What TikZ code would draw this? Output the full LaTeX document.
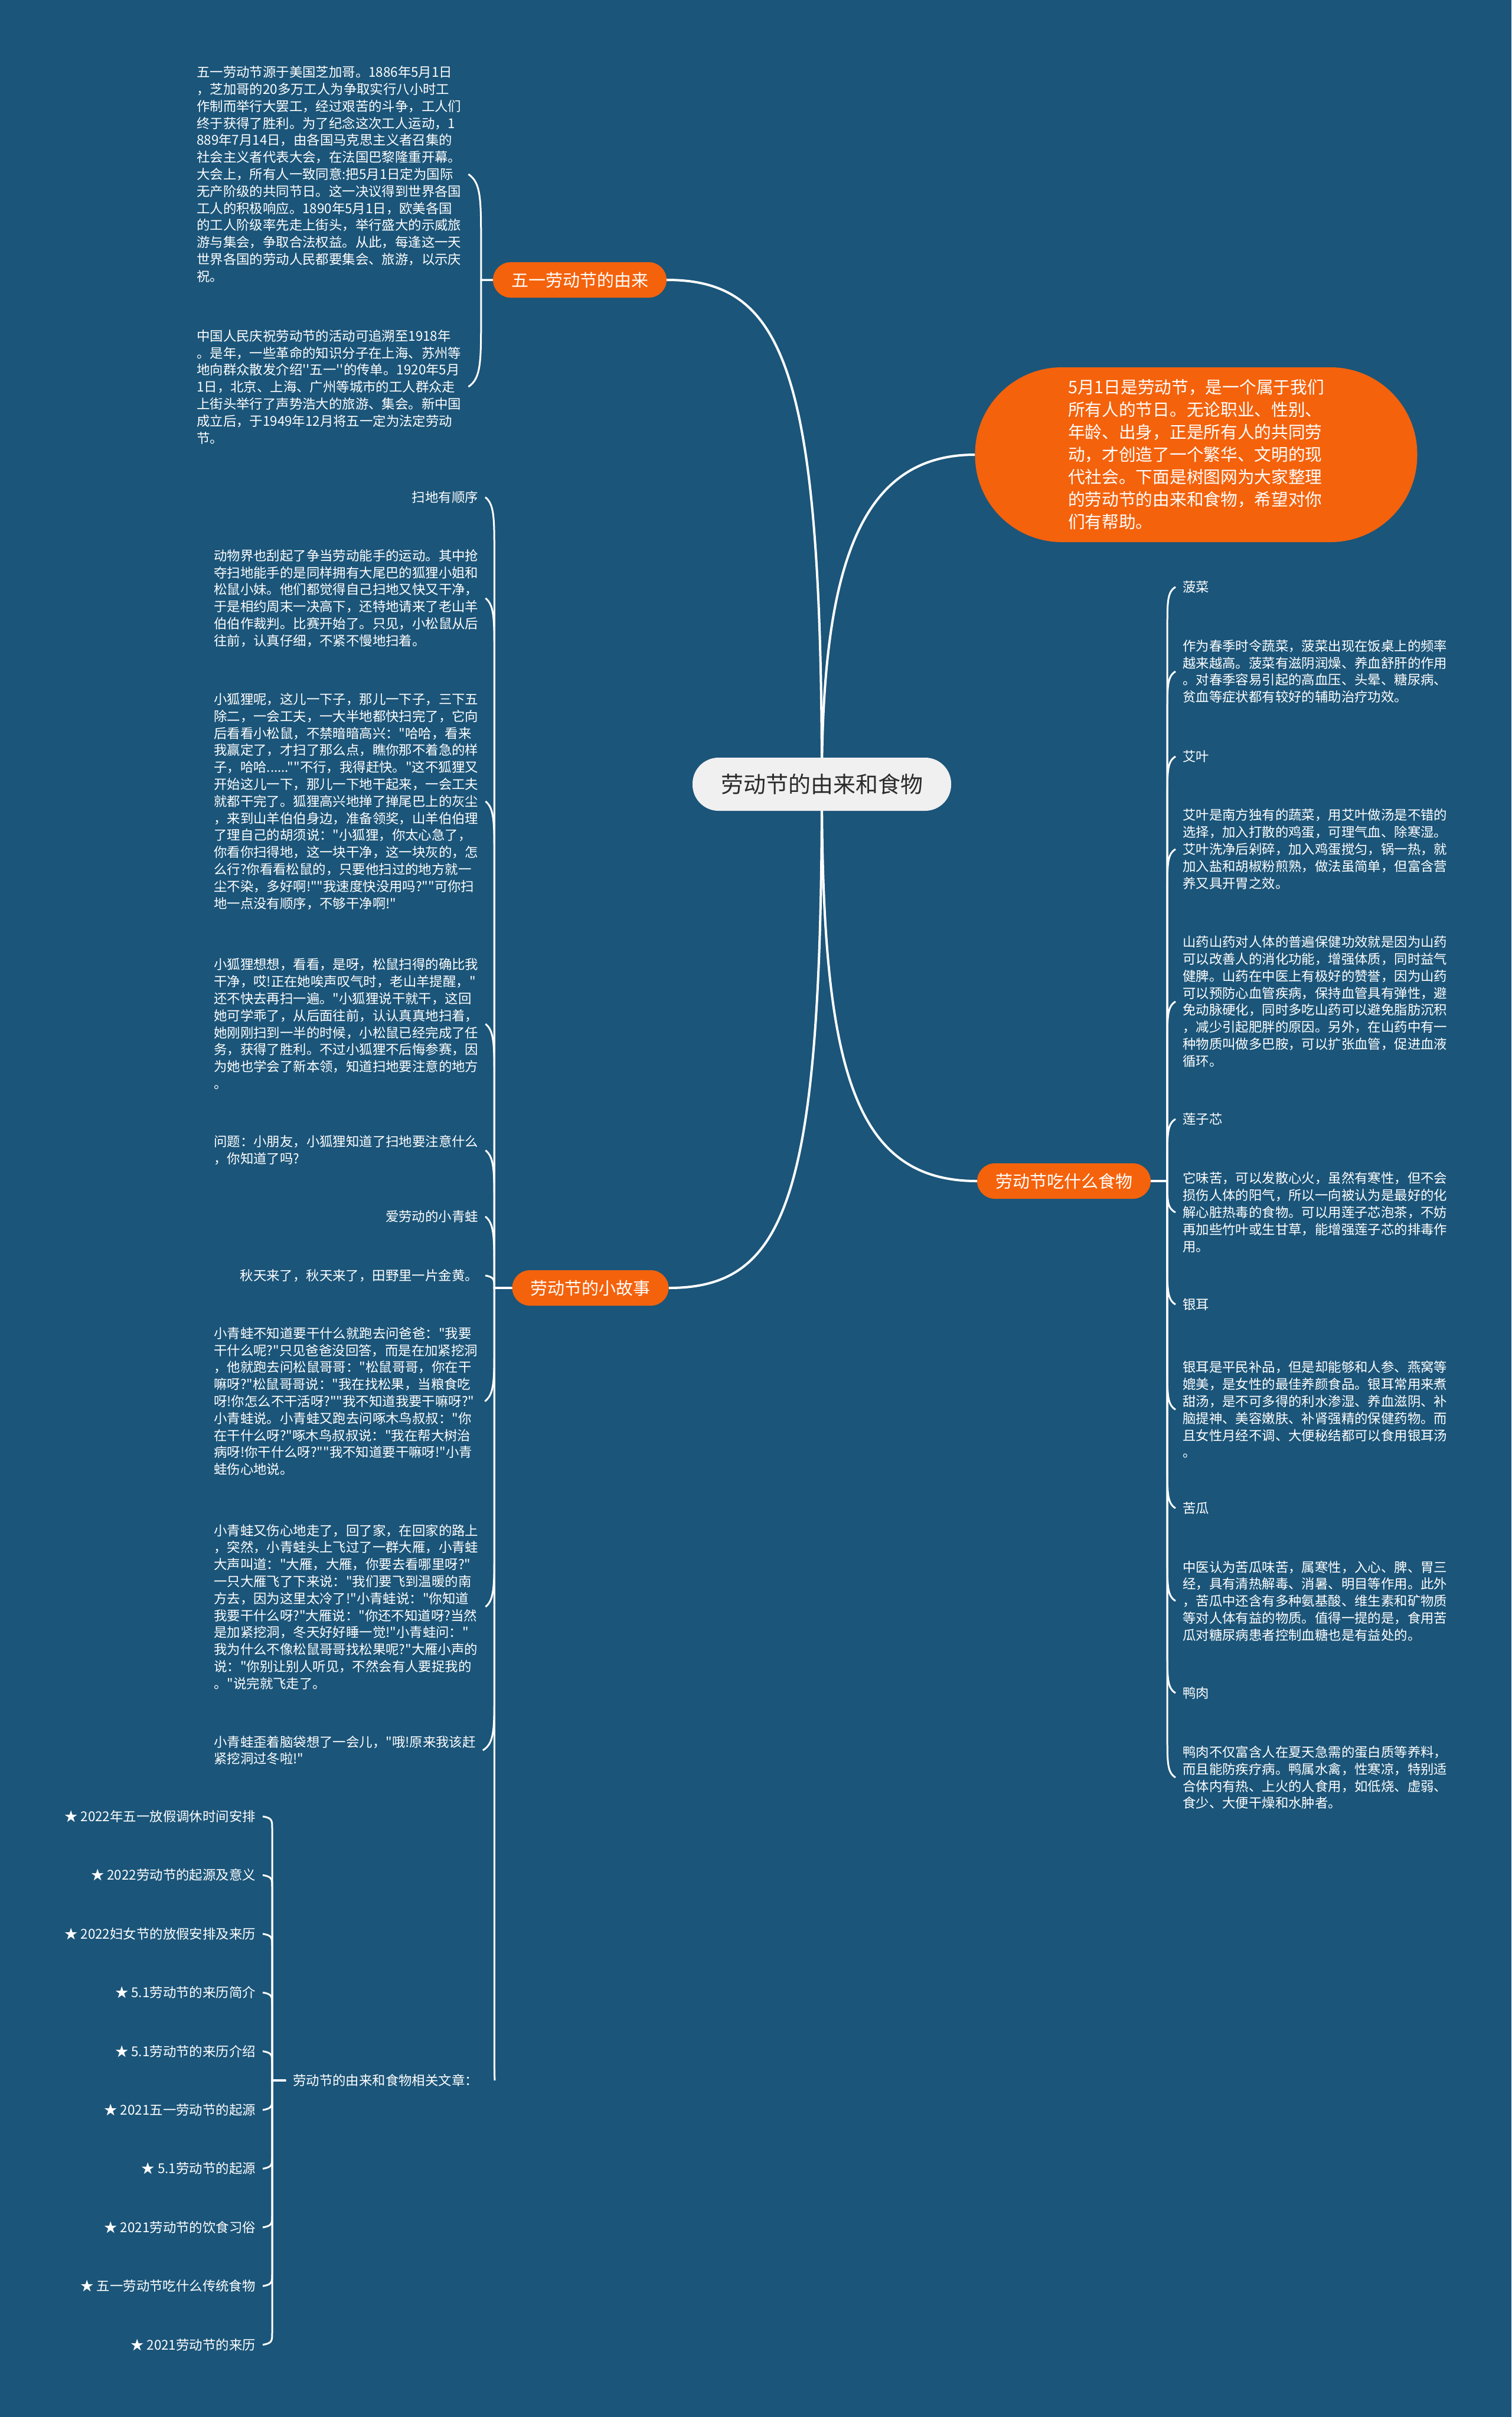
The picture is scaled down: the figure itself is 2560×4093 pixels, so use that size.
\documentclass[tikz,border=0pt]{standalone}
\usepackage{tikz}
\usetikzlibrary{calc}

% plain \font: no tex-text mapping, so the straight quotes stay straight
\font\bodyfont="Noto Sans CJK SC" at 22.4pt
\font\pillfont="Noto Sans CJK SC" at 29pt
\font\bubblefont="Noto Sans CJK SC" at 28.7pt
\font\rootfont="Noto Sans CJK SC" at 38pt

\definecolor{mapblue}{HTML}{1B5579}
\definecolor{maporange}{HTML}{F4620C}
\definecolor{rootgray}{HTML}{F0F0F0}
\definecolor{rootink}{HTML}{2B2B2B}

\pgfdeclarelayer{back}
\pgfsetlayers{back,main}

\begin{document}
\begin{tikzpicture}[x=1pt, y=-1pt,
    root/.style={fill=rootgray, text=rootink, font=\rootfont, rounded corners=44pt,
                 minimum width=438pt, minimum height=90pt},
    pill/.style={fill=maporange, text=white, font=\pillfont, rounded corners=30pt,
                 inner xsep=31pt, minimum height=60pt},
    bubble/.style={fill=maporange, text=white, font={\bubblefont\baselineskip=38pt},
                   align=left, rounded corners=147pt, minimum width=749pt, minimum height=296pt},
    leaf/.style={text=white, font={\bodyfont\baselineskip=28.8pt}, align=left, inner sep=0pt},
    trunk/.style={draw=white, line width=4pt},
    twig/.style={draw=white, line width=3pt},
    lbranch/.style 2 args={to path={
        let \p1=(\tikztostart), \p2=(\tikztotarget),
            \n1={ifthenelse(\y1>\y2,1,-1)}, \n2={min(#2,abs(\y1-\y2))} in
        -- (\x1-#1,\y1) -- (\x1-#1,\y2+\n1*\n2)
        .. controls (\x1-#1,\y2+0.35*\n1*\n2) and (\x1-#1,\y2+0.12*\n1*\n2) .. (\x2+12pt,\y2)}},
    rbranch/.style 2 args={to path={
        let \p1=(\tikztostart), \p2=(\tikztotarget),
            \n1={ifthenelse(\y1>\y2,1,-1)}, \n2={min(#2,abs(\y1-\y2))} in
        -- (\x1+#1,\y1) -- (\x1+#1,\y2+\n1*\n2)
        .. controls (\x1+#1,\y2+0.35*\n1*\n2) and (\x1+#1,\y2+0.12*\n1*\n2) .. (\x2-12pt,\y2)}}
  ]
  \useasboundingbox (0,0) rectangle (2560,4093);

  % centre and main branches
  \node[root] (root) at (1392,1328) {劳动节的由来和食物};
  \node[pill] (origin) at (982,474) {五一劳动节的由来};
  \node[pill] (story) at (1000,2181) {劳动节的小故事};
  \node[pill] (food) at (1802,2000) {劳动节吃什么食物};
  \node[bubble] (intro) at (2026,770) {5月1日是劳动节，是一个属于我们\\
所有人的节日。无论职业、性别、\\
年龄、出身，正是所有人的共同劳\\
动，才创造了一个繁华、文明的现\\
代社会。下面是树图网为大家整理\\
的劳动节的由来和食物，希望对你\\
们有帮助。};

  % origin of the holiday
  \node[leaf, anchor=west] (chicago) at (333,295) {五一劳动节源于美国芝加哥。1886年5月1日\\
，芝加哥的20多万工人为争取实行八小时工\\
作制而举行大罢工，经过艰苦的斗争，工人们\\
终于获得了胜利。为了纪念这次工人运动，1\\
889年7月14日，由各国马克思主义者召集的\\
社会主义者代表大会，在法国巴黎隆重开幕。\\
大会上，所有人一致同意:把5月1日定为国际\\
无产阶级的共同节日。这一决议得到世界各国\\
工人的积极响应。1890年5月1日，欧美各国\\
的工人阶级率先走上街头，举行盛大的示威旅\\
游与集会，争取合法权益。从此，每逢这一天\\
世界各国的劳动人民都要集会、旅游，以示庆\\
祝。};
  \node[leaf, anchor=west] (china) at (333,655) {中国人民庆祝劳动节的活动可追溯至1918年\\
。是年，一些革命的知识分子在上海、苏州等\\
地向群众散发介绍''五一''的传单。1920年5月\\
1日，北京、上海、广州等城市的工人群众走\\
上街头举行了声势浩大的旅游、集会。新中国\\
成立后，于1949年12月将五一定为法定劳动\\
节。};

  % stories
  \node[leaf, anchor=east] (sweep) at (810,842) {扫地有顺序};
  \node[leaf, anchor=west] (race) at (362,1013) {动物界也刮起了争当劳动能手的运动。其中抢\\
夺扫地能手的是同样拥有大尾巴的狐狸小姐和\\
松鼠小妹。他们都觉得自己扫地又快又干净，\\
于是相约周末一决高下，还特地请来了老山羊\\
伯伯作裁判。比赛开始了。只见，小松鼠从后\\
往前，认真仔细，不紧不慢地扫着。};
  \node[leaf, anchor=west] (hurry) at (362,1357) {小狐狸呢，这儿一下子，那儿一下子，三下五\\
除二，一会工夫，一大半地都快扫完了，它向\\
后看看小松鼠，不禁暗暗高兴："哈哈，看来\\
我赢定了，才扫了那么点，瞧你那不着急的样\\
子，哈哈......""不行，我得赶快。"这不狐狸又\\
开始这儿一下，那儿一下地干起来，一会工夫\\
就都干完了。狐狸高兴地掸了掸尾巴上的灰尘\\
，来到山羊伯伯身边，准备领奖，山羊伯伯理\\
了理自己的胡须说："小狐狸，你太心急了，\\
你看你扫得地，这一块干净，这一块灰的，怎\\
么行?你看看松鼠的，只要他扫过的地方就一\\
尘不染，多好啊!""我速度快没用吗?""可你扫\\
地一点没有顺序，不够干净啊!"};
  \node[leaf, anchor=west] (lesson) at (362,1734) {小狐狸想想，看看，是呀，松鼠扫得的确比我\\
干净，哎!正在她唉声叹气时，老山羊提醒，"\\
还不快去再扫一遍。"小狐狸说干就干，这回\\
她可学乖了，从后面往前，认认真真地扫着，\\
她刚刚扫到一半的时候，小松鼠已经完成了任\\
务，获得了胜利。不过小狐狸不后悔参赛，因\\
为她也学会了新本领，知道扫地要注意的地方\\
。};
  \node[leaf, anchor=west] (quiz) at (362,1948) {问题：小朋友，小狐狸知道了扫地要注意什么\\
，你知道了吗?};
  \node[leaf, anchor=east] (frog) at (810,2060) {爱劳动的小青蛙};
  \node[leaf, anchor=east] (autumn) at (810,2160) {秋天来了，秋天来了，田野里一片金黄。};
  \node[leaf, anchor=west] (ask) at (362,2373) {小青蛙不知道要干什么就跑去问爸爸："我要\\
干什么呢?"只见爸爸没回答，而是在加紧挖洞\\
，他就跑去问松鼠哥哥："松鼠哥哥，你在干\\
嘛呀?"松鼠哥哥说："我在找松果，当粮食吃\\
呀!你怎么不干活呀?""我不知道我要干嘛呀?"\\
小青蛙说。小青蛙又跑去问啄木鸟叔叔："你\\
在干什么呀?"啄木鸟叔叔说："我在帮大树治\\
病呀!你干什么呀?""我不知道要干嘛呀!"小青\\
蛙伤心地说。};
  \node[leaf, anchor=west] (geese) at (362,2721) {小青蛙又伤心地走了，回了家，在回家的路上\\
，突然，小青蛙头上飞过了一群大雁，小青蛙\\
大声叫道："大雁，大雁，你要去看哪里呀?"\\
一只大雁飞了下来说："我们要飞到温暖的南\\
方去，因为这里太冷了!"小青蛙说："你知道\\
我要干什么呀?"大雁说："你还不知道呀?当然\\
是加紧挖洞，冬天好好睡一觉!"小青蛙问："\\
我为什么不像松鼠哥哥找松果呢?"大雁小声的\\
说："你别让别人听见，不然会有人要捉我的\\
。"说完就飞走了。};
  \node[leaf, anchor=west] (dig) at (362,2964) {小青蛙歪着脑袋想了一会儿，"哦!原来我该赶\\
紧挖洞过冬啦!"};
  \node[leaf, anchor=west] (related) at (496,3523) {劳动节的由来和食物相关文章：};

  % related articles
  \foreach \t [count=\i] in {2022年五一放假调休时间安排, 2022劳动节的起源及意义,
      2022妇女节的放假安排及来历, 5.1劳动节的来历简介, 5.1劳动节的来历介绍,
      2021五一劳动节的起源, 5.1劳动节的起源, 2021劳动节的饮食习俗,
      五一劳动节吃什么传统食物, 2021劳动节的来历}
    \node[leaf, anchor=east] (item\i) at (433,{3076+99.4*(\i-1)}) {★ \t};

  % food
  \node[leaf, anchor=west] (spinach) at (2003,994) {菠菜};
  \node[leaf, anchor=west] (spinachtxt) at (2003,1137) {作为春季时令蔬菜，菠菜出现在饭桌上的频率\\
越来越高。菠菜有滋阴润燥、养血舒肝的作用\\
。对春季容易引起的高血压、头晕、糖尿病、\\
贫血等症状都有较好的辅助治疗功效。};
  \node[leaf, anchor=west] (mugwort) at (2003,1281) {艾叶};
  \node[leaf, anchor=west] (mugworttxt) at (2003,1438) {艾叶是南方独有的蔬菜，用艾叶做汤是不错的\\
选择，加入打散的鸡蛋，可理气血、除寒湿。\\
艾叶洗净后剁碎，加入鸡蛋搅匀，锅一热，就\\
加入盐和胡椒粉煎熟，做法虽简单，但富含营\\
养又具开胃之效。};
  \node[leaf, anchor=west] (yam) at (2003,1696) {山药山药对人体的普遍保健功效就是因为山药\\
可以改善人的消化功能，增强体质，同时益气\\
健脾。山药在中医上有极好的赞誉，因为山药\\
可以预防心血管疾病，保持血管具有弹性，避\\
免动脉硬化，同时多吃山药可以避免脂肪沉积\\
，减少引起肥胖的原因。另外，在山药中有一\\
种物质叫做多巴胺，可以扩张血管，促进血液\\
循环。};
  \node[leaf, anchor=west] (lotus) at (2003,1895) {莲子芯};
  \node[leaf, anchor=west] (lotustxt) at (2003,2053) {它味苦，可以发散心火，虽然有寒性，但不会\\
损伤人体的阳气，所以一向被认为是最好的化\\
解心脏热毒的食物。可以用莲子芯泡茶，不妨\\
再加些竹叶或生甘草，能增强莲子芯的排毒作\\
用。};
  \node[leaf, anchor=west] (fungus) at (2003,2209) {银耳};
  \node[leaf, anchor=west] (fungustxt) at (2003,2387) {银耳是平民补品，但是却能够和人参、燕窝等\\
媲美，是女性的最佳养颜食品。银耳常用来煮\\
甜汤，是不可多得的利水渗湿、养血滋阴、补\\
脑提神、美容嫩肤、补肾强精的保健药物。而\\
且女性月经不调、大便秘结都可以食用银耳汤\\
。};
  \node[leaf, anchor=west] (melon) at (2003,2554) {苦瓜};
  \node[leaf, anchor=west] (melontxt) at (2003,2711) {中医认为苦瓜味苦，属寒性，入心、脾、胃三\\
经，具有清热解毒、消暑、明目等作用。此外\\
，苦瓜中还含有多种氨基酸、维生素和矿物质\\
等对人体有益的物质。值得一提的是，食用苦\\
瓜对糖尿病患者控制血糖也是有益处的。};
  \node[leaf, anchor=west] (duck) at (2003,2867) {鸭肉};
  \node[leaf, anchor=west] (ducktxt) at (2003,3010) {鸭肉不仅富含人在夏天急需的蛋白质等养料，\\
而且能防疾疗病。鸭属水禽，性寒凉，特别适\\
合体内有热、上火的人食用，如低烧、虚弱、\\
食少、大便干燥和水肿者。};

  \begin{pgfonlayer}{back}
    \fill[mapblue] (0,0) rectangle (2560,4093);

    % trunk curves
    \draw[trunk] (root.center) .. controls +(0,-700) and +(200,0) .. (origin.east);
    \draw[trunk] (root.center) .. controls +(0,700) and +(200,0) .. (story.east);
    \draw[trunk] (root.center) .. controls +(0,-380) and +(-190,0) .. (intro.west);
    \draw[trunk] (root.center) .. controls +(0,480) and +(-210,0) .. (food.west);

    % left branches
    \foreach \kid in {chicago, china}
      \draw[twig] (origin.west) to[lbranch={20pt}{120}] (\kid.east);
    \foreach \kid in {sweep, race, hurry, lesson, quiz, frog, autumn, ask, geese, dig}
      \draw[twig] (story.west) to[lbranch={30pt}{100}] (\kid.east);
    \draw[twig] (story.west) to[lbranch={30pt}{100}] ([xshift=16pt]related.east);
    \foreach \i in {1,...,10}
      \draw[twig] ([xshift=-12pt]related.west) to[lbranch={23pt}{20}] (item\i.east);

    % right branches
    \foreach \kid in {spinach, spinachtxt, mugwort, mugworttxt, yam, lotus, lotustxt,
        fungus, fungustxt, melon, melontxt, duck, ducktxt}
      \draw[twig] (food.east) to[rbranch={28pt}{70}] (\kid.west);
  \end{pgfonlayer}
\end{tikzpicture}
\end{document}
